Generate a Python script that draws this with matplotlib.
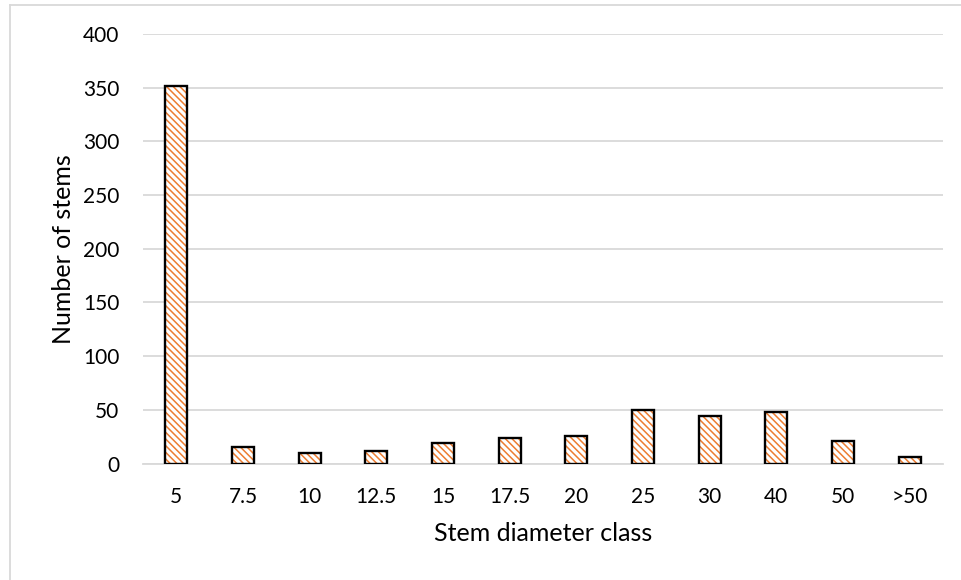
import numpy as np
import matplotlib.pyplot as plt
from matplotlib.lines import Line2D

# 径级分布数据
classes = ['5', '7.5', '10', '12.5', '15', '17.5', '20', '25', '30', '40', '50', '>50']
stems = [352, 15, 10, 12, 19, 24, 26, 50, 44, 48, 21, 6]

orange = '#ED7D31'
grid_gray = '#D9D9D9'

plt.rcParams['font.family'] = ['Lato', 'DejaVu Sans']
plt.rcParams['hatch.linewidth'] = 1.1

fig = plt.figure(figsize=(9.61, 5.80), dpi=100)
ax = fig.add_axes([143/961, 1 - 463.5/580, 800/961, 429.5/580])

x = np.arange(len(classes))
width = 0.33
# 填充图案（橙色斜线）+ 黑色边框
ax.bar(x, stems, width, color='white', edgecolor=orange, hatch='\\\\\\\\\\', linewidth=0, zorder=2)
ax.bar(x, stems, width, fill=False, edgecolor='black', linewidth=1.7, zorder=3)

ax.set_xlim(-0.5, len(classes) - 0.5)
ax.set_ylim(0, 400)
ax.set_yticks(np.arange(0, 401, 50))
ax.set_xticks(x)
ax.set_xticklabels(classes)
ax.yaxis.grid(True, color=grid_gray, linewidth=1.3)
ax.set_axisbelow(True)
for side in ['top', 'right', 'left']:
    ax.spines[side].set_visible(False)
ax.spines['bottom'].set_color(grid_gray)
ax.spines['bottom'].set_linewidth(1.3)
ax.tick_params(axis='both', length=0, labelsize=15, colors='black')
ax.tick_params(axis='y', pad=17)
ax.tick_params(axis='x', pad=17)

ax.set_xlabel('Stem diameter class', fontsize=18, labelpad=11)
ax.set_ylabel('Number of stems', fontsize=18, labelpad=6)

# 图表外框
fig.add_artist(Line2D([10/961, 10/961], [0, 1 - 5/580], color=grid_gray, linewidth=1.3, transform=fig.transFigure))
fig.add_artist(Line2D([10/961, 1], [1 - 5/580, 1 - 5/580], color=grid_gray, linewidth=1.3, transform=fig.transFigure))

fig.savefig('out.png', dpi=100)
